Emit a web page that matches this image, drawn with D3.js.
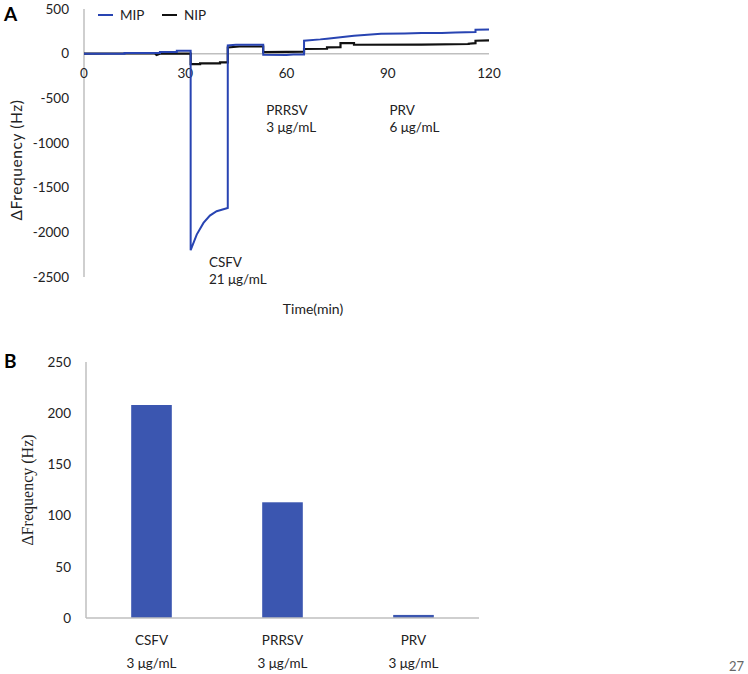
<!DOCTYPE html>
<html>
<head>
<meta charset="utf-8">
<script src="https://cdn.jsdelivr.net/npm/d3@7"></script>
<style>
  body { margin: 0; background: #fff; }
  svg { display: block; font-family: Lato, "Open Sans", sans-serif; }
</style>
</head>
<body>
<svg id="chart" width="748" height="674"></svg>
<script>
// Panel A: frequency shift over time (step-like sensor trace)
const mipTime = [0, 12, 12, 22.5, 22.5, 27.5, 27.5, 31.6, 31.6, 33.4, 35.4, 37.3, 39.3, 42.6, 42.6, 45, 53.1, 53.1, 60, 62, 65.2, 65.2, 70, 72, 76, 80, 88, 95, 100, 106, 110, 116, 116, 120];
const mipValue = [0, 0, 8, 8, 20, 20, 33, 33, -2200, -2025, -1895, -1812, -1764, -1727, 92, 100, 100, -12, -15, -10, -10, 145, 160, 168, 185, 200, 222, 225, 230, 232, 238, 242, 268, 270];

const nipTime = [0, 8, 21, 21.5, 22.5, 31.6, 31.6, 34.4, 34.4, 40.3, 40.3, 42.6, 42.6, 46, 53.1, 53.1, 60, 65.2, 65.2, 72, 72, 76, 76, 80, 80, 100, 114, 114, 116, 116, 120];
const nipValue = [0, 2, 2, -15, 0, 2, -116, -116, -108, -108, -97, -97, 70, 80, 80, 18, 20, 22, 52, 55, 70, 72, 119, 119, 100, 102, 108, 112, 118, 145, 148];

const timeTicks = [0, 30, 60, 90, 120];
const freqTicks = [500, 0, -500, -1000, -1500, -2000, -2500];

const annotations = [
  { t: 37, v: -2390, lines: ["CSFV", "21 \u03bcg/mL"] },
  { t: 54, v: -690, lines: ["PRRSV", "3 \u03bcg/mL"] },
  { t: 90.5, v: -690, lines: ["PRV", "6 \u03bcg/mL"] }
];

// Panel B: response per virus
const virusNames = ["CSFV", "PRRSV", "PRV"];
const virusConc = ["3 \u03bcg/mL", "3 \u03bcg/mL", "3 \u03bcg/mL"];
const virusShift = [208, 113, 3];
const shiftTicks = [0, 50, 100, 150, 200, 250];

const blue = "#2844b2";
const barBlue = "#3b56b0";
const axisGray = "#bfbfbf";
const textColor = "#222";

const svg = d3.select("#chart");

// ---------- Panel A ----------
const x = d3.scaleLinear().domain([0, 120]).range([84, 489]);
const y = d3.scaleLinear().domain([-2500, 500]).range([277, 9]);

const gA = svg.append("g");

gA.append("line")
  .attr("x1", x(0)).attr("x2", x(0))
  .attr("y1", y(500)).attr("y2", y(-2500))
  .attr("stroke", axisGray).attr("stroke-width", 1.5);

gA.append("line")
  .attr("x1", x(0)).attr("x2", x(120))
  .attr("y1", y(0)).attr("y2", y(0))
  .attr("stroke", axisGray).attr("stroke-width", 1.5);

gA.selectAll(".ytick")
  .data(freqTicks)
  .join("text")
  .attr("class", "ytick")
  .attr("x", 69)
  .attr("y", d => y(d))
  .attr("dy", "0.35em")
  .attr("text-anchor", "end")
  .attr("font-size", 13.5)
  .attr("fill", textColor)
  .text(d => d);

gA.selectAll(".xtick")
  .data(timeTicks)
  .join("text")
  .attr("class", "xtick")
  .attr("x", d => x(d))
  .attr("y", y(0) + 20)
  .attr("dy", "0.35em")
  .attr("text-anchor", "middle")
  .attr("font-size", 13.5)
  .attr("fill", textColor)
  .text(d => d);

const line = d3.line()
  .x(d => x(d[0]))
  .y(d => y(d[1]));

gA.append("path")
  .datum(d3.zip(nipTime, nipValue))
  .attr("d", line)
  .attr("fill", "none")
  .attr("stroke", "#111")
  .attr("stroke-width", 2.2);

gA.append("path")
  .datum(d3.zip(mipTime, mipValue))
  .attr("d", line)
  .attr("fill", "none")
  .attr("stroke", blue)
  .attr("stroke-width", 2);

// legend
const legend = [
  { name: "MIP", color: blue, x: 98 },
  { name: "NIP", color: "#111", x: 162 }
];
const lg = gA.selectAll(".legend")
  .data(legend)
  .join("g")
  .attr("class", "legend")
  .attr("transform", d => `translate(${d.x},15)`);
lg.append("line")
  .attr("x1", 0).attr("x2", 15)
  .attr("stroke", d => d.color).attr("stroke-width", 2);
lg.append("text")
  .attr("x", 22).attr("dy", "0.38em")
  .attr("font-size", 13.5)
  .attr("fill", textColor)
  .text(d => d.name);

// annotations
annotations.forEach(a => {
  const t = gA.append("text")
    .attr("x", x(a.t))
    .attr("y", y(a.v))
    .attr("font-size", 13.5)
    .attr("fill", textColor);
  a.lines.forEach((s, i) => {
    t.append("tspan")
      .attr("x", x(a.t))
      .attr("dy", i === 0 ? 0 : 17)
      .text(s);
  });
});

gA.append("text")
  .attr("x", 313).attr("y", 314)
  .attr("text-anchor", "middle")
  .attr("font-size", 14)
  .attr("fill", textColor)
  .text("Time(min)");

gA.append("text")
  .attr("transform", "translate(22,160) rotate(-90)")
  .attr("text-anchor", "middle")
  .attr("font-size", 15.5)
  .attr("letter-spacing", 0.6)
  .attr("fill", textColor)
  .text("\u0394Frequency (Hz)");

svg.append("text")
  .attr("x", 4).attr("y", 21)
  .attr("font-size", 19)
  .attr("font-weight", "bold")
  .attr("fill", "#000")
  .text("A");

// ---------- Panel B ----------
const xb = d3.scaleBand().domain(virusNames).range([86, 479]).paddingInner(0.69).paddingOuter(0.345);
const yb = d3.scaleLinear().domain([0, 250]).range([618, 362]);

const gB = svg.append("g");

gB.append("line")
  .attr("x1", 86).attr("x2", 86)
  .attr("y1", yb(250)).attr("y2", yb(0))
  .attr("stroke", axisGray).attr("stroke-width", 1.5);

gB.selectAll(".bar")
  .data(virusNames)
  .join("rect")
  .attr("class", "bar")
  .attr("x", d => xb(d))
  .attr("width", xb.bandwidth())
  .attr("y", (d, i) => yb(virusShift[i]))
  .attr("height", (d, i) => yb(0) - yb(virusShift[i]))
  .attr("fill", barBlue);

gB.append("line")
  .attr("x1", 86).attr("x2", 479)
  .attr("y1", yb(0)).attr("y2", yb(0))
  .attr("stroke", axisGray).attr("stroke-width", 1.5);

gB.selectAll(".ytick")
  .data(shiftTicks)
  .join("text")
  .attr("class", "ytick")
  .attr("x", 71)
  .attr("y", d => yb(d))
  .attr("dy", "0.35em")
  .attr("text-anchor", "end")
  .attr("font-size", 13.5)
  .attr("fill", textColor)
  .text(d => d);

gB.selectAll(".cat")
  .data(virusNames)
  .join("text")
  .attr("class", "cat")
  .attr("x", d => xb(d) + xb.bandwidth() / 2)
  .attr("y", 645)
  .attr("text-anchor", "middle")
  .attr("font-size", 13.5)
  .attr("fill", textColor)
  .text(d => d);

gB.selectAll(".conc")
  .data(virusNames)
  .join("text")
  .attr("class", "conc")
  .attr("x", d => xb(d) + xb.bandwidth() / 2)
  .attr("y", 668)
  .attr("text-anchor", "middle")
  .attr("font-size", 13.5)
  .attr("fill", textColor)
  .text((d, i) => virusConc[i]);

gB.append("text")
  .attr("transform", "translate(33,490) rotate(-90)")
  .attr("text-anchor", "middle")
  .attr("font-family", "'Liberation Serif', 'DejaVu Serif', serif")
  .attr("font-size", 16)
  .attr("fill", textColor)
  .text("\u0394Frequency (Hz)");

svg.append("text")
  .attr("x", 4).attr("y", 368)
  .attr("font-size", 19)
  .attr("font-weight", "bold")
  .attr("fill", "#000")
  .text("B");

svg.append("text")
  .attr("x", 729).attr("y", 671)
  .attr("font-size", 13)
  .attr("fill", "#666")
  .text("27");
</script>
</body>
</html>
